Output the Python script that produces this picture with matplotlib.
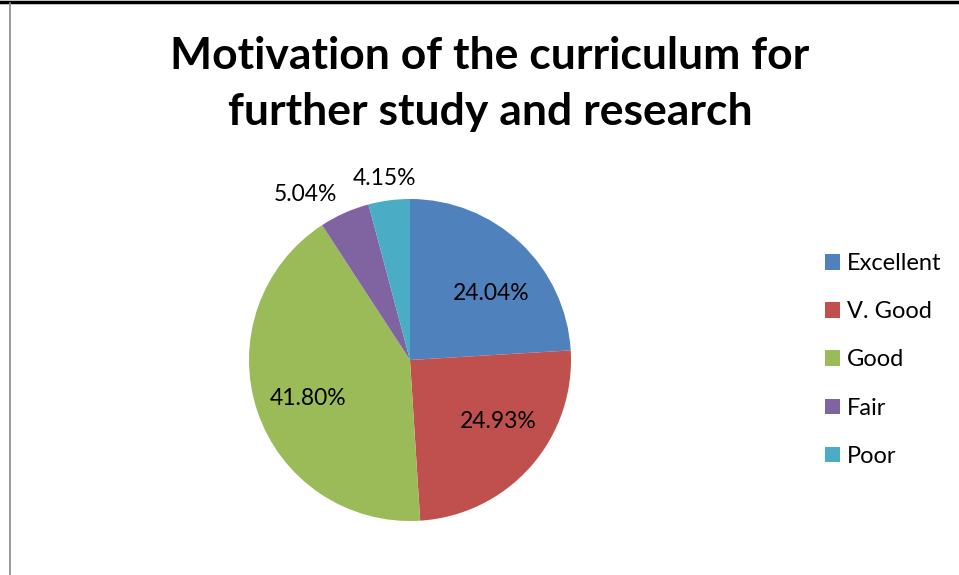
import matplotlib
matplotlib.use("Agg")
import matplotlib.pyplot as plt
from matplotlib.patches import Patch
from matplotlib.lines import Line2D

# ─── 数据 ──────────────────────────────────────────────────────────────────
CATEGORIES = ["Excellent", "V. Good", "Good", "Fair", "Poor"]
VALUES     = [24.04, 24.93, 41.80, 5.04, 4.15]
COLORS     = ["#4F81BD", "#C0504D", "#9BBB59", "#8064A2", "#4BACC6"]
TITLE      = "Motivation of the curriculum for\nfurther study and research"

# 标签位置（相对半径），模仿 Excel 的 best fit
LABEL_POS = [(0.503, 0.410), (0.547, -0.379), (-0.634, -0.242),
             (-0.652, 1.025), (-0.161, 1.130)]

plt.rcParams["font.family"] = ["Lato", "DejaVu Sans"]

W, H = 959, 575
fig = plt.figure(figsize=(W / 100, H / 100), dpi=100)

# ─── 饼图 ──────────────────────────────────────────────────────────────────
cx, cy, r = 410, 360, 161
ax = fig.add_axes([(cx - r) / W, (H - cy - r) / H, 2 * r / W, 2 * r / H])
wedges, _ = ax.pie(VALUES, colors=COLORS, startangle=90, counterclock=False,
                   radius=1.0, wedgeprops=dict(linewidth=0))
ax.set_xlim(-1, 1)
ax.set_ylim(-1, 1)
ax.set_aspect("equal")
ax.axis("off")

for v, (x, y) in zip(VALUES, LABEL_POS):
    ax.text(x, y, f"{v:.2f}%", ha="center", va="center", fontsize=16.5,
            color="black", clip_on=False)

# ─── 标题 ──────────────────────────────────────────────────────────────────
fig.text(490 / W, 1 - 84 / H, TITLE, ha="center", va="center",
         fontsize=32, fontweight="bold", linespacing=1.5)

# ─── 图例 ──────────────────────────────────────────────────────────────────
handles = [Patch(facecolor=c, edgecolor="none") for c in COLORS]
fig.legend(handles, CATEGORIES, loc="center left",
           bbox_to_anchor=(804 / W, 1 - 360 / H), frameon=False,
           fontsize=17, handlelength=0.63, handleheight=0.63,
           handletextpad=0.28, labelspacing=1.15)

# ─── 边框 ──────────────────────────────────────────────────────────────────
fig.add_artist(Line2D([0, 1], [1 - 1.5 / H, 1 - 1.5 / H], color="black", lw=2.5,
                      transform=fig.transFigure))
fig.add_artist(Line2D([9.5 / W, 9.5 / W], [0, 1 - 3 / H], color="#888888", lw=1.2,
                      transform=fig.transFigure))

fig.savefig("out.png", dpi=100)
